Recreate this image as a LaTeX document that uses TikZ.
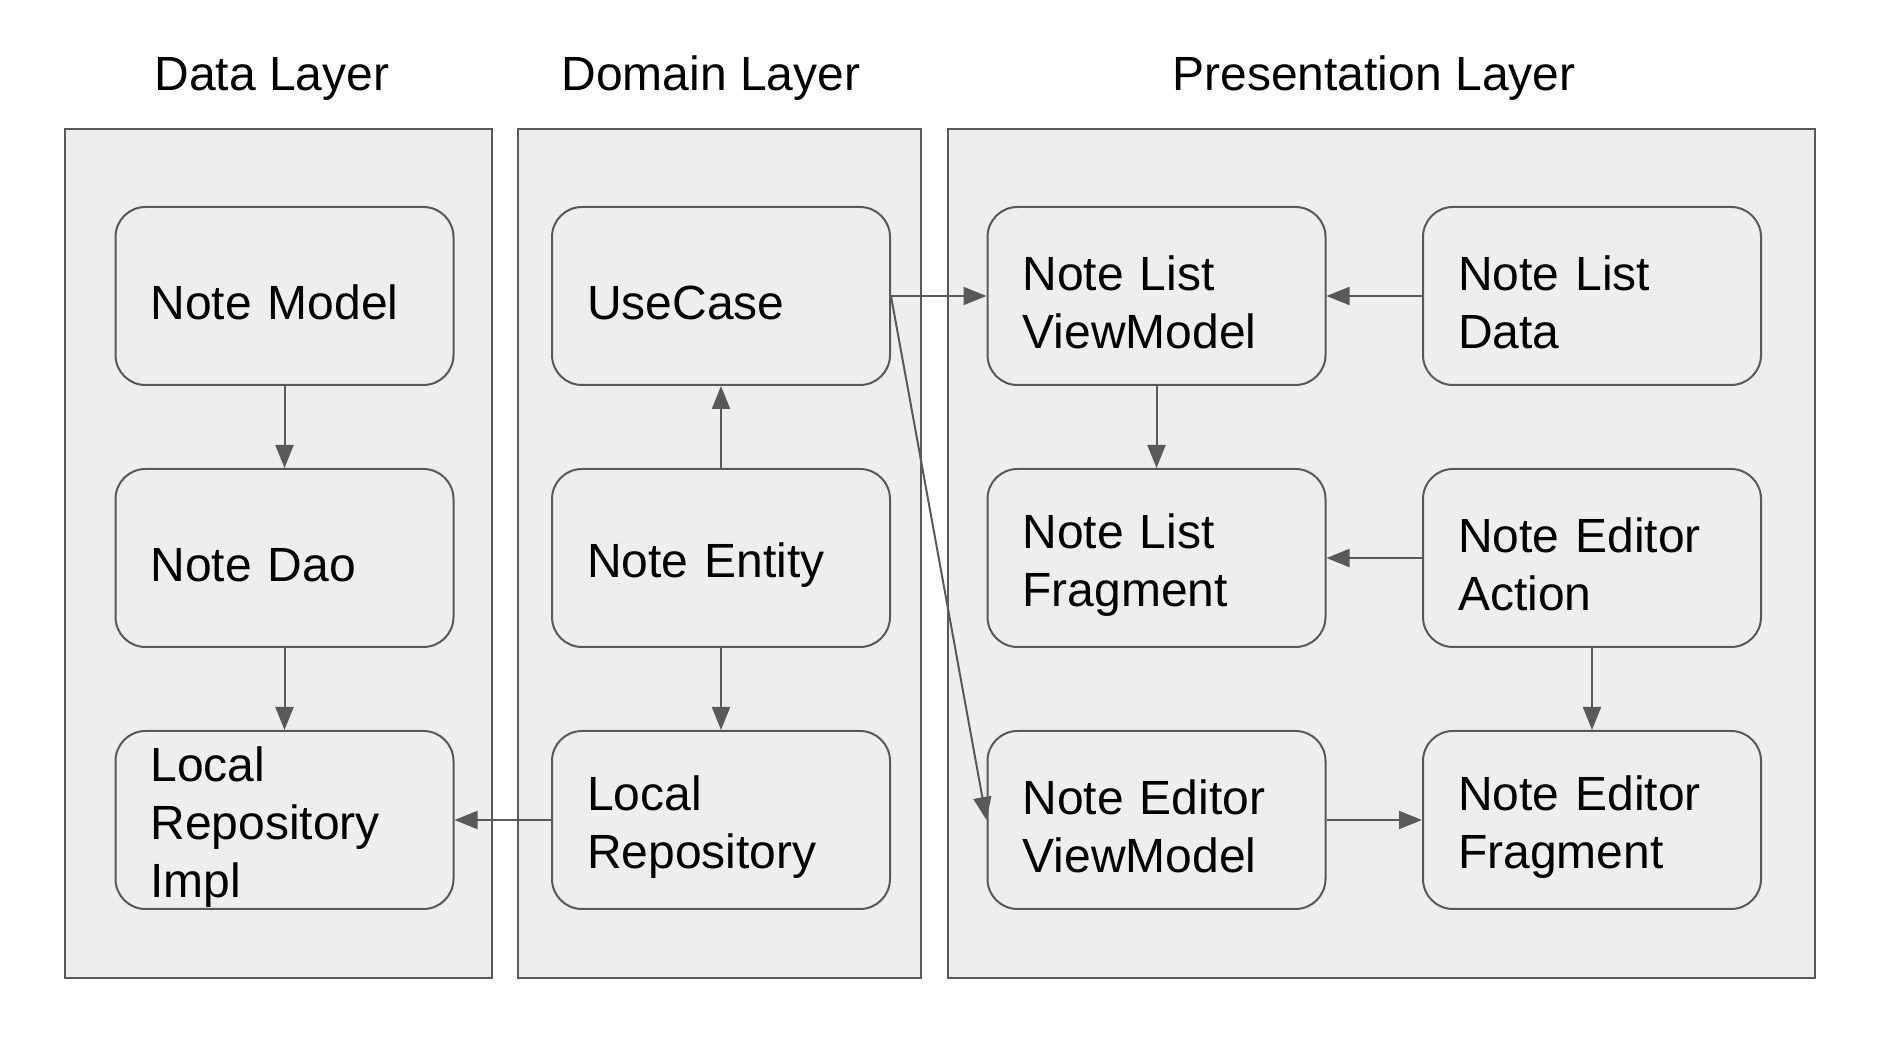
\documentclass[tikz,border=0pt]{standalone}
\usepackage{fontspec}
\setmainfont{Liberation Sans}
\usetikzlibrary{arrows.meta}
\definecolor{panelfill}{HTML}{EEEEEE}
\definecolor{linegray}{HTML}{595959}

\begin{document}
\begin{tikzpicture}[x=0.5pt, y=-0.5pt,
    layer/.style={draw=linegray, fill=panelfill, line width=1pt},
    title/.style={anchor=base, font=\fontsize{24}{29}\selectfont},
    unit/.style={draw=linegray, fill=panelfill, line width=1pt, rounded corners=15pt,
        minimum width=169pt, minimum height=89pt, text width=134pt, inner xsep=17.5pt,
        inner ysep=0pt, align=left, font=\fontsize{24}{29}\selectfont,
        execute at begin node={\rule{0pt}{24pt}}},
    link/.style={draw=linegray, line width=1pt, -{Triangle[length=11.5pt, width=9pt]}}]
    \useasboundingbox (0,0) rectangle (1886,1052);
    \fill[white] (0,0) rectangle (1886,1052);
    \draw[layer] (65,129) rectangle (492,978);
    \draw[layer] (518,129) rectangle (921,978);
    \draw[layer] (948,129) rectangle (1815,978);
    \node[title] (datatitle) at (272,91) {Data Layer};
    \node[title] (domaintitle) at (711,91) {Domain Layer};
    \node[title] (prestitle) at (1374,91) {Presentation Layer};
    \node[unit] (notemodel) at (284.5,296) {Note Model};
    \node[unit] (notedao) at (284.5,558) {Note Dao};
    \node[unit] (localrepoimpl) at (284.5,820) {Local\\Repository\\Impl};
    \node[unit] (usecase) at (721,296) {UseCase};
    \node[unit] (noteentity) at (721,558) {Note Entity};
    \node[unit] (localrepo) at (721,820) {Local\\Repository};
    \node[unit] (listvm) at (1156.5,296) {Note List\\ViewModel};
    \node[unit] (listfrag) at (1156.5,558) {Note List\\Fragment};
    \node[unit] (editorvm) at (1156.5,820) {Note Editor\\ViewModel};
    \node[unit] (listdata) at (1592,296) {Note List\\Data};
    \node[unit] (editoraction) at (1592,558) {Note Editor\\Action};
    \node[unit] (editorfrag) at (1592,820) {Note Editor\\Fragment};
    \draw[link] (notemodel) -- (notedao);
    \draw[link] (notedao) -- (localrepoimpl);
    \draw[link] (noteentity) -- (usecase);
    \draw[link] (noteentity) -- (localrepo);
    \draw[link] (localrepo) -- (localrepoimpl);
    \draw[link] (usecase.east) -- (listvm.west);
    \draw[link] (usecase.east) -- (editorvm.west);
    \draw[link] (listdata) -- (listvm);
    \draw[link] (listvm) -- (listfrag);
    \draw[link] (editoraction) -- (listfrag);
    \draw[link] (editoraction) -- (editorfrag);
    \draw[link] (editorvm) -- (editorfrag);
\end{tikzpicture}
\end{document}
